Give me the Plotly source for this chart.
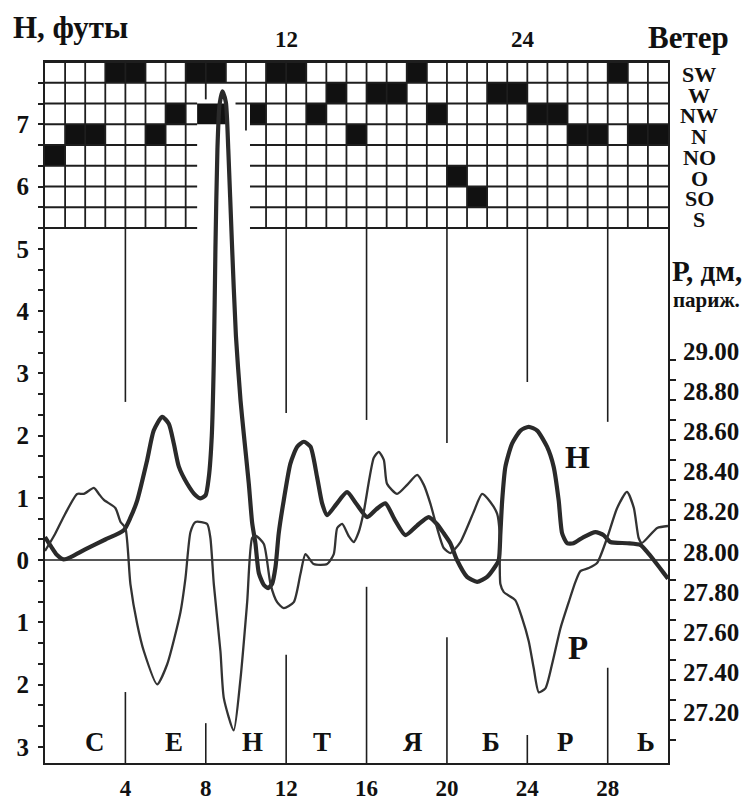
import plotly.graph_objects as go

# ---------------- data ----------------
# Sea level H (feet), thick curve
days_h = [0.0, 0.3, 0.6, 0.93, 1.3, 2.0, 3.0, 3.92, 4.25, 4.59, 5.08, 5.41, 5.83, 6.16, 6.41,
          6.66, 7.07, 7.49, 7.74, 7.99, 8.15, 8.30, 8.40, 8.48, 8.58, 8.68, 8.83, 9.0, 9.12,
          9.30, 9.50, 9.73, 9.89, 10.14, 10.31, 10.47, 10.64, 10.89, 11.1, 11.3, 11.47, 11.63,
          11.88, 12.21, 12.55, 12.88, 13.21, 13.54, 13.79, 14.04, 14.5, 15.03, 15.5, 16.03,
          16.5, 16.94, 17.4, 17.93, 18.5, 19.09, 19.5, 19.84, 20.17, 20.5, 21.0, 21.5, 22.0,
          22.41, 22.58, 22.66, 22.75, 22.91, 23.24, 23.66, 24.07, 24.49, 24.98, 25.31, 25.56,
          25.73, 25.98, 26.3, 26.8, 27.39, 27.8, 28.13, 28.97, 29.64, 29.96, 30.29, 30.79, 31.0]
h_level_ft = [0.37, 0.22, 0.08, 0.01, 0.05, 0.17, 0.33, 0.48, 0.68, 0.96, 1.60, 2.08, 2.30, 2.19, 1.87,
              1.50, 1.23, 1.04, 0.99, 1.04, 1.33, 2.0, 3.2, 5.0, 6.6, 7.3, 7.53, 7.35, 6.6,
              5.1, 3.6, 2.56, 2.03, 1.23, 0.59, 0.27, -0.21, -0.40, -0.45, -0.38, -0.11, 0.43,
              0.96, 1.55, 1.82, 1.90, 1.82, 1.33, 0.91, 0.72, 0.90, 1.09, 0.90, 0.69,
              0.82, 0.91, 0.65, 0.40, 0.55, 0.69, 0.58, 0.43, 0.27, 0.0, -0.27, -0.35, -0.27,
              -0.10, 0.0, 0.43, 0.96, 1.50, 1.87, 2.08, 2.14, 2.08, 1.82, 1.50, 0.96,
              0.43, 0.27, 0.27, 0.37, 0.45, 0.40, 0.29, 0.27, 0.24, 0.13, 0.0, -0.21, -0.30]

# Air pressure P (Paris inches), thin curve
days_p = [0.0, 0.5, 1.0, 1.6, 1.93, 2.43, 2.68, 2.93, 3.5, 3.76, 4.0, 4.25, 4.59, 4.92, 5.58,
          6.08, 6.74, 6.99, 7.24, 7.49, 8.07, 8.23, 8.4, 8.73, 8.9, 9.39, 9.73, 10.06, 10.31,
          10.5, 10.89, 11.22, 11.55, 11.88, 12.38, 12.71, 12.96, 13.37, 14.04, 14.37, 14.54,
          14.79, 15.11, 15.36, 15.61, 15.86, 16.36, 16.61, 16.86, 17.02, 17.52, 18.02, 18.52,
          18.85, 19.18, 19.51, 19.84, 20.17, 20.67, 21.33, 21.75, 22.16, 22.5, 22.62, 22.66,
          22.83, 23.4, 23.74, 24.07, 24.32, 24.57, 24.9, 25.23, 25.65, 26.06, 26.39, 26.64,
          27.06, 27.47, 27.97, 28.47, 28.96, 29.3, 29.54, 29.7, 30.46, 31.0]
p_inches = [28.045, 28.13, 28.23, 28.33, 28.33, 28.36, 28.33, 28.30, 28.26, 28.19, 28.16, 27.88, 27.68, 27.545, 27.38,
            27.48, 27.74, 27.91, 28.14, 28.19, 28.18, 28.11, 27.88, 27.545, 27.31, 27.15, 27.41, 27.79, 28.11,
            28.12, 28.08, 27.88, 27.79, 27.76, 27.79, 27.93, 28.03, 27.98, 27.98, 28.03, 28.16,
            28.18, 28.12, 28.09, 28.14, 28.24, 28.51, 28.54, 28.50, 28.38, 28.33, 28.375, 28.425,
            28.375, 28.28, 28.16, 28.06, 28.035, 28.09, 28.24, 28.33, 28.29, 28.23, 28.14, 27.88,
            27.84, 27.80, 27.71, 27.595, 27.46, 27.34, 27.36, 27.48, 27.66, 27.79, 27.89, 27.945,
            27.96, 27.985, 28.11, 28.26, 28.34, 28.26, 28.11, 28.085, 28.16, 28.17]

# Wind: rows of the table (top to bottom) and observed direction for each day cell
wind_rows = ["SW", "W", "NW", "N", "NO", "O", "SO", "S"]
wind_by_day = ["NO", "N", "N", "SW", "SW", "N", "NW", "SW", "SW", "NW", "NW", "SW", "SW", "NW",
               "W", "N", "W", "W", "SW", "NW", "O", "SO", "W", "W", "NW", "NW", "N", "N", "SW",
               "N", "N"]

# Axis / label texts
x_tick_vals = [4, 8, 12, 16, 20, 24, 28]
x_tick_labels = ["4", "8", "12", "16", "20", "24", "28"]
top_day_labels = ["12", "24"]
top_day_vals = [12, 23.8]
h_tick_vals = [-3, -2, -1, 0, 1, 2, 3, 4, 5, 6, 7]
h_tick_labels = ["3", "2", "1", "0", "1", "2", "3", "4", "5", "6", "7"]
p_tick_vals = [27.2, 27.4, 27.6, 27.8, 28.0, 28.2, 28.4, 28.6, 28.8, 29.0]
p_tick_labels = ["27.20", "27.40", "27.60", "27.80", "28.00", "28.20", "28.40", "28.60", "28.80", "29.00"]
month_letters = ["С", "Е", "Н", "Т", "Я", "Б", "Р", "Ь"]
month_letter_days = [2.5, 6.4, 10.3, 13.8, 18.3, 22.2, 25.9, 29.9]

# week separator lines: upper part hangs from table, lower part rises from the axis
week_days = [4, 8, 12, 16, 20, 24, 28]
week_upper_end = [2.54, None, 2.36, 2.25, 1.88, 2.86, 2.22]
week_lower_end = [-2.12, -2.62, -1.52, -0.43, -1.24, -2.81, -1.73]

# ---------------- geometry / style ----------------
N_DAYS = 31
H_RANGE = [-3.26, 8.0]
P_PER_FT = 0.3106          # inches of pressure per foot of level on the drawing
P_AT_ZERO = 28.0
GRID_TOP = 8.0
ROW = 1.0 / 3.0
SERIF = "Liberation Serif"
INK = "#1e1e1e"

# gaps in the wind table around the big spike (per boundary index / per row)
def boundary_gap(i):
    if i <= 1:
        return None
    if i == 2:
        return (7.57, 9.48)
    return (7.57, 10.2)

def row_gap(r):
    return boundary_gap(r + 1) if r >= 1 else None

def vline_span(d):
    bottom = GRID_TOP - 8 * ROW
    if d == 8:
        return (7.4, GRID_TOP)
    if d == 9:
        return (GRID_TOP - ROW, GRID_TOP)
    if d == 10:
        return (6.9, GRID_TOP)
    return (bottom, GRID_TOP)

fig = go.Figure()

# --- wind table cells (shapes, data coords) ---
shapes = []
for k, w in enumerate(wind_by_day):
    r = wind_rows.index(w)
    y1 = GRID_TOP - r * ROW
    y0 = y1 - ROW
    x0, x1 = k, k + 1
    g = row_gap(r)
    if g is not None:
        if x0 < g[1] and x1 > g[0]:
            if x1 > g[1]:
                x0 = g[1]
            else:
                x1 = g[0]
    shapes.append(dict(type="rect", xref="x", yref="y", x0=x0, x1=x1, y0=y0, y1=y1,
                       fillcolor="#111111", line=dict(width=0), layer="below"))

# --- table grid lines ---
gx, gy = [], []
for i in range(9):
    yb = GRID_TOP - i * ROW
    g = boundary_gap(i)
    segs = [(0, N_DAYS)] if g is None else [(0, g[0]), (g[1], N_DAYS)]
    for a, b in segs:
        gx += [a, b, None]
        gy += [yb, yb, None]
for d in range(1, N_DAYS):
    a, b = vline_span(d)
    gx += [d, d, None]
    gy += [a, b, None]
fig.add_trace(go.Scatter(x=gx, y=gy, mode="lines", line=dict(color=INK, width=1.8),
                         hoverinfo="skip", showlegend=False))

# --- week lines ---
wx, wy = [], []
table_bottom = GRID_TOP - 8 * ROW
for d, up, lo in zip(week_days, week_upper_end, week_lower_end):
    if up is not None:
        wx += [d, d, None]
        wy += [table_bottom, up, None]
    wx += [d, d, None]
    wy += [H_RANGE[0], lo, None]
fig.add_trace(go.Scatter(x=wx, y=wy, mode="lines", line=dict(color=INK, width=1.6),
                         hoverinfo="skip", showlegend=False))

# zero line
fig.add_trace(go.Scatter(x=[0, N_DAYS], y=[0, 0], mode="lines",
                         line=dict(color=INK, width=1.4), hoverinfo="skip", showlegend=False))

# --- curves ---
fig.add_trace(go.Scatter(x=days_p, y=p_inches, yaxis="y2", mode="lines",
                         line=dict(color="#333333", width=2.3, shape="spline", smoothing=0.6),
                         showlegend=False))
fig.add_trace(go.Scatter(x=days_h, y=h_level_ft, mode="lines",
                         line=dict(color="#2a2a2a", width=4.2, shape="spline", smoothing=0.6),
                         showlegend=False))

# --- annotations ---
ann = []
def bold(size):
    return dict(family=SERIF, size=size, color="#111111", weight="bold")

ann.append(dict(text="Н, футы", xref="paper", yref="paper", x=0, y=1, xanchor="left",
                yanchor="middle", xshift=-34, yshift=35, showarrow=False, font=bold(31)))
ann.append(dict(text="Ветер", xref="paper", yref="paper", x=1, y=1, xanchor="left",
                yanchor="middle", xshift=-22, yshift=25, showarrow=False, font=bold(31)))
for t, v in zip(top_day_labels, top_day_vals):
    ann.append(dict(text=t, xref="x", yref="paper", x=v, y=1, xanchor="center",
                    yanchor="middle", yshift=23, showarrow=False, font=bold(23)))
for r, name in enumerate(wind_rows):
    ann.append(dict(text=name, xref="paper", yref="y", x=1, y=GRID_TOP - (r + 0.5) * ROW,
                    xanchor="center", yanchor="middle", xshift=31, yshift=-2,
                    showarrow=False, font=bold(22)))
ann.append(dict(text="Р, дм,", xref="paper", yref="paper", x=1, y=1, xanchor="left",
                yanchor="middle", xshift=2, yshift=-209, showarrow=False, font=bold(29)))
ann.append(dict(text="париж.", xref="paper", yref="paper", x=1, y=1, xanchor="left",
                yanchor="middle", xshift=3, yshift=-238, showarrow=False, font=bold(21)))
for v, t in zip(p_tick_vals, p_tick_labels):
    ann.append(dict(text=t, xref="paper", yref="y2", x=1, y=v, xanchor="left",
                    yanchor="middle", xshift=13, yshift=8, showarrow=False, font=bold(25)))
for t, d in zip(month_letters, month_letter_days):
    ann.append(dict(text=t, xref="x", yref="y", x=d, y=-2.92, xanchor="center",
                    yanchor="middle", showarrow=False, font=bold(27)))
ann.append(dict(text="H", xref="x", yref="y", x=26.5, y=1.66, showarrow=False, font=bold(32)))
ann.append(dict(text="P", xref="x", yref="y", x=26.5, y=-1.42, showarrow=False, font=bold(33)))

minor_h = [round(-3 + i / 3, 4) for i in range(33)]
h_text = {v: t for v, t in zip(h_tick_vals, h_tick_labels)}
minor_h_text = [h_text.get(int(round(v)), "") if abs(v - round(v)) < 1e-6 else "" for v in minor_h]
p_minor = [round(27.1 + i * 0.1, 2) for i in range(20)]

# page body has an 8px default margin: plot area placed so it lands at x 45-668, y 62-763
fig.update_layout(
    width=750, height=801,
    margin=dict(l=37, r=90, t=54, b=46, autoexpand=False),
    plot_bgcolor="white", paper_bgcolor="white",
    showlegend=False,
    shapes=shapes,
    annotations=ann,
    xaxis=dict(range=[0, N_DAYS], showgrid=False, zeroline=False, showline=True, mirror=True,
               linecolor=INK, linewidth=2, tickvals=x_tick_vals, ticktext=x_tick_labels,
               ticks="", ticklabelstandoff=3, tickfont=bold(23), automargin=False),
    yaxis=dict(range=H_RANGE, showgrid=False, zeroline=False, showline=True, mirror=True,
               linecolor=INK, linewidth=2, tickvals=minor_h, ticktext=minor_h_text,
               ticks="outside", ticklen=5, tickwidth=1.5, tickcolor=INK,
               ticklabelstandoff=4, tickfont=bold(25), automargin=False),
    yaxis2=dict(range=[P_AT_ZERO + H_RANGE[0] * P_PER_FT, P_AT_ZERO + H_RANGE[1] * P_PER_FT],
                overlaying="y", side="right", showgrid=False, zeroline=False, showline=False,
                tickvals=p_minor, ticks="outside", ticklen=7, tickwidth=1.5, tickcolor=INK,
                showticklabels=False, automargin=False),
)

fig.write_html("out.html")
